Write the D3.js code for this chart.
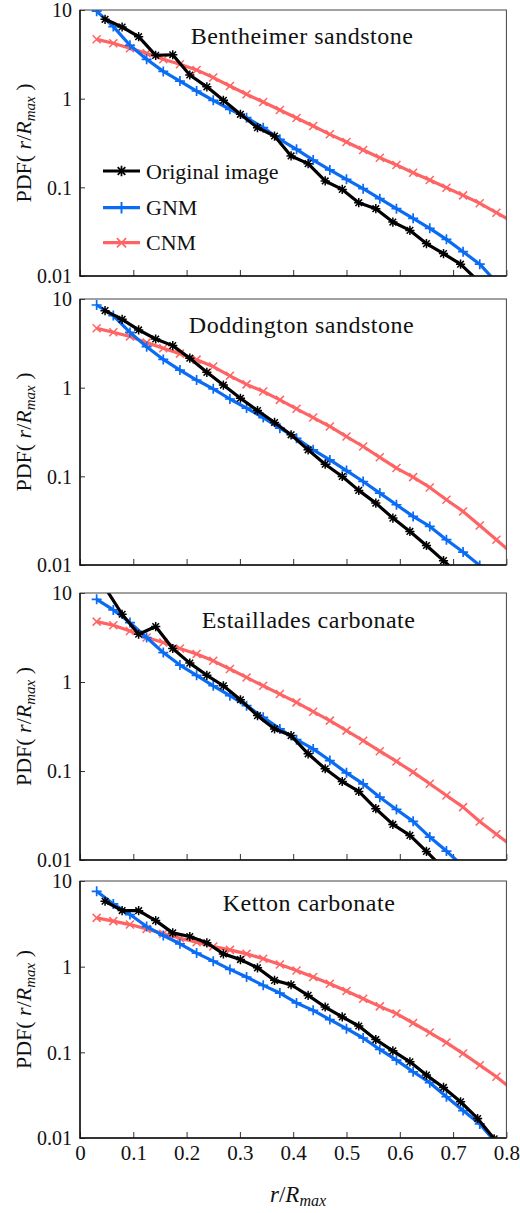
<!DOCTYPE html>
<html><head><meta charset="utf-8">
<script src="https://cdn.jsdelivr.net/npm/d3@7"></script>
<style>
html,body{margin:0;padding:0;background:#fff;}
svg{display:block;}
svg text{font-family:'Liberation Serif','DejaVu Serif',serif !important;fill:#111;}
</style>
</head><body>
<svg id="c" width="520" height="1213" font-family="Liberation Serif, DejaVu Serif, serif"></svg>
<script>
// ---------------- DATA ----------------
const panelNames = ["Bentheimer sandstone","Doddington sandstone","Estaillades carbonate","Ketton carbonate"];
const legendLabels = ["Original image","GNM","CNM"];

// x positions (r/Rmax) of the original-image points
const xOrig = [0.047,0.079,0.110,0.142,0.174,0.206,0.238,0.269,0.301,0.333,0.365,0.396,0.428,0.460,0.492,0.523,0.555,0.587,0.619,0.650,0.682,0.714,0.746,0.777];
// x positions (r/Rmax) of the network-model points
const xModel = [0.03125,0.0625,0.09375,0.125,0.15625,0.1875,0.21875,0.25,0.28125,0.3125,0.34375,0.375,0.40625,0.4375,0.46875,0.5,0.53125,0.5625,0.59375,0.625,0.65625,0.6875,0.71875,0.75,0.78125,0.8125];

const origBentheimer = [7.85,6.43,5.0,3.08,3.13,1.85,1.36,0.957,0.666,0.471,0.379,0.226,0.185,0.118,0.0948,0.0671,0.0574,0.0406,0.0327,0.0232,0.0179,0.0136,0.0089];
const gnmBentheimer  = [9.7,6.5,4.0,2.78,2.03,1.58,1.22,0.957,0.759,0.611,0.471,0.348,0.268,0.203,0.157,0.123,0.0966,0.0745,0.0574,0.0447,0.0345,0.0259,0.0188,0.0136,0.0085];
const cnmBentheimer  = [4.67,4.21,3.70,3.25,2.78,2.44,2.11,1.73,1.39,1.12,0.917,0.745,0.605,0.492,0.396,0.325,0.264,0.216,0.179,0.146,0.121,0.0991,0.0812,0.0661,0.0518,0.0407];

const origDoddington = [7.39,5.90,4.48,3.54,2.98,2.15,1.49,1.07,0.76,0.552,0.405,0.294,0.199,0.137,0.0997,0.0694,0.0499,0.0338,0.0239,0.0166,0.0112,0.0075];
const gnmDoddington  = [8.56,6.5,4.2,2.9,2.08,1.58,1.22,0.97,0.745,0.588,0.46,0.349,0.269,0.199,0.153,0.116,0.0875,0.0647,0.0478,0.0353,0.0272,0.0193,0.014,0.0099,0.007];
const cnmDoddington  = [4.67,4.21,3.77,3.22,2.78,2.42,2.07,1.73,1.36,1.09,0.904,0.728,0.577,0.46,0.365,0.281,0.217,0.164,0.124,0.098,0.075,0.0544,0.0402,0.0279,0.0193,0.0133];

const origEstaillades = [11.5,5.77,3.44,4.2,2.38,1.63,1.19,0.907,0.632,0.419,0.297,0.25,0.156,0.106,0.0762,0.0589,0.0377,0.0251,0.0189,0.0125,0.0080];
const gnmEstaillades  = [8.49,6.45,4.65,3.16,2.14,1.55,1.19,0.907,0.701,0.542,0.401,0.297,0.225,0.177,0.131,0.0953,0.0718,0.0508,0.037,0.0272,0.0181,0.0126,0.0085];
const cnmEstaillades  = [4.77,4.34,3.75,3.16,2.78,2.38,2.06,1.73,1.40,1.125,0.907,0.732,0.59,0.464,0.368,0.284,0.219,0.167,0.128,0.097,0.0718,0.0531,0.0393,0.0271,0.0195,0.0140];

const origKetton = [5.8,4.52,4.5,3.45,2.48,2.25,1.90,1.41,1.21,0.97,0.692,0.615,0.462,0.338,0.259,0.203,0.141,0.104,0.0774,0.0542,0.0389,0.0265,0.0169,0.0098];
const gnmKetton  = [7.58,5.4,4.06,2.94,2.31,1.85,1.44,1.16,0.929,0.757,0.605,0.492,0.377,0.309,0.241,0.189,0.147,0.108,0.081,0.0593,0.0442,0.0303,0.0209,0.0146,0.0087];
const cnmKetton  = [3.71,3.40,3.10,2.76,2.42,2.15,1.93,1.72,1.57,1.41,1.24,1.06,0.904,0.757,0.633,0.52,0.423,0.344,0.283,0.22,0.17,0.13,0.0968,0.0708,0.0518,0.0363];

const yTickValues = [0.01,0.1,1,10];
const yTickLabels = ["0.01","0.1","1","10"];
const xTickValues = [0,0.1,0.2,0.3,0.4,0.5,0.6,0.7,0.8];
const xTickLabels = ["0","0.1","0.2","0.3","0.4","0.5","0.6","0.7","0.8"];

// ---------------- LAYOUT / STYLE ----------------
const origSeries = [origBentheimer,origDoddington,origEstaillades,origKetton];
const gnmSeries  = [gnmBentheimer,gnmDoddington,gnmEstaillades,gnmKetton];
const cnmSeries  = [cnmBentheimer,cnmDoddington,cnmEstaillades,cnmKetton];

const FONT = "Liberation Serif, DejaVu Serif, serif";
const plotLeft = 80, plotRight = 506.4;
const panelBox = [{top:10,bottom:276},{top:299,bottom:565},{top:593,bottom:860},{top:881,bottom:1138}];
const titlePos = [{cx:302,dy:33.5},{cx:301.5,dy:34},{cx:308.5,dy:34.5},{cx:309,dy:29.5}];
const colOrig = "#000000", colGnm = "#0a6cf4", colCnm = "#ff6464";

const svg = d3.select("#c");
const x = d3.scaleLinear().domain([0,0.8]).range([plotLeft,plotRight]);

const plusPath = s => `M${-s},0H${s}M0,${-s}V${s}`;
const crossPath = s => `M${-s},${-s}L${s},${s}M${-s},${s}L${s},${-s}`;
const starPath = s => plusPath(s) + crossPath(s*0.72);

const seriesDefs = [
  {key:"cnm", color:colCnm, mk:s=>crossPath(4.0*s), mw:1.5},
  {key:"gnm", color:colGnm, mk:s=>plusPath(5.0*s), mw:1.7},
  {key:"orig", color:colOrig, mk:s=>starPath(4.6*s), mw:1.5}
];

panelNames.forEach((name,i)=>{
  const box = panelBox[i];
  const y = d3.scaleLog().domain([0.01,10]).range([box.bottom, box.top]);
  const g = svg.append("g");
  const clipId = "clip"+i;
  svg.append("clipPath").attr("id",clipId).append("rect")
    .attr("x",plotLeft).attr("y",box.top).attr("width",plotRight-plotLeft).attr("height",box.bottom-box.top);

  // axes
  const yAxis = d3.axisLeft(y).tickValues(yTickValues).tickFormat((d,j)=>yTickLabels[j])
    .tickSizeInner(-5).tickSizeOuter(0).tickPadding(8);
  const ya = g.append("g").attr("transform",`translate(${plotLeft},0)`).call(yAxis)
    .attr("font-family",FONT).attr("font-size",20);
  ya.select(".domain").remove();
  ya.selectAll("text").attr("fill","#111").attr("dy","0.34em");
  ya.selectAll("line").attr("stroke","#333");

  const isBottom = i === panelNames.length-1;
  const xAxis = d3.axisBottom(x).tickValues(xTickValues)
    .tickFormat((d,j)=> isBottom ? xTickLabels[j] : "")
    .tickSizeInner(-6).tickSizeOuter(0).tickPadding(7);
  const xa = g.append("g").attr("transform",`translate(0,${box.bottom})`).call(xAxis)
    .attr("font-family",FONT).attr("font-size",21);
  xa.select(".domain").remove();
  xa.selectAll("text").attr("fill","#111");
  xa.selectAll("line").attr("stroke","#333");

  // data
  const dataFor = {
    orig: origSeries[i].map((v,j)=>[xOrig[j],v]),
    gnm: gnmSeries[i].map((v,j)=>[xModel[j],v]),
    cnm: cnmSeries[i].map((v,j)=>[xModel[j],v])
  };
  const line = d3.line().x(d=>x(d[0])).y(d=>y(d[1]));
  const dg = g.append("g").attr("clip-path",`url(#${clipId})`);
  seriesDefs.forEach(s=>{
    const pts = dataFor[s.key];
    dg.append("path").datum(pts).attr("d",line).attr("fill","none")
      .attr("stroke",s.color).attr("stroke-width",3.2).attr("stroke-linejoin","round");
    dg.selectAll(null).data(pts).enter().append("path")
      .attr("transform",d=>`translate(${x(d[0])},${y(d[1])})`)
      .attr("d",s.mk(1)).attr("fill","none").attr("stroke",s.color).attr("stroke-width",s.mw);
  });

  // frame
  g.append("rect").attr("x",plotLeft).attr("y",box.top).attr("width",plotRight-plotLeft).attr("height",box.bottom-box.top)
    .attr("fill","none").attr("stroke","#444").attr("stroke-width",1);
  g.append("path").attr("d",`M${plotLeft},${box.top}V${box.bottom}H${plotRight}`)
    .attr("fill","none").attr("stroke","#111").attr("stroke-width",1.5);

  // title
  g.append("text").attr("x",titlePos[i].cx).attr("y",box.top+titlePos[i].dy)
    .attr("text-anchor","middle").attr("font-family",FONT).attr("font-size",24).attr("letter-spacing","0.5px").text(name);

  // y label
  const yl = g.append("text").attr("transform",`translate(31,${(box.top+box.bottom)/2}) rotate(-90)`)
    .attr("text-anchor","middle").attr("font-family",FONT).attr("font-size",22);
  yl.append("tspan").text("PDF(");
  yl.append("tspan").attr("font-style","italic").text(" r");
  yl.append("tspan").text("/");
  yl.append("tspan").attr("font-style","italic").text("R");
  yl.append("tspan").attr("font-style","italic").attr("font-size",15).attr("dy",4).text("max");
  yl.append("tspan").attr("dy",-4).text(" )");

  // legend in first panel
  if(i===0){
    const legY = [171,207.7,242.7];
    const legDefs = [seriesDefs[2],seriesDefs[1],seriesDefs[0]];
    legendLabels.forEach((lab,j)=>{
      const s = legDefs[j];
      g.append("line").attr("x1",103).attr("x2",140).attr("y1",legY[j]).attr("y2",legY[j])
        .attr("stroke",s.color).attr("stroke-width",3.2);
      g.append("path").attr("transform",`translate(121.5,${legY[j]})`).attr("d",s.mk(1.15))
        .attr("fill","none").attr("stroke",s.color).attr("stroke-width",s.mw+0.2);
      g.append("text").attr("x",146).attr("y",legY[j]+7.5).attr("font-family",FONT).attr("font-size",22).text(lab);
    });
  }
});

// x label
const xl = svg.append("text").attr("x",298).attr("y",1202).attr("text-anchor","middle")
  .attr("font-family",FONT).attr("font-size",23);
xl.append("tspan").attr("font-style","italic").text("r");
xl.append("tspan").text("/");
xl.append("tspan").attr("font-style","italic").text("R");
xl.append("tspan").attr("font-style","italic").attr("font-size",16).attr("dy",4).text("max");
</script>
</body></html>
